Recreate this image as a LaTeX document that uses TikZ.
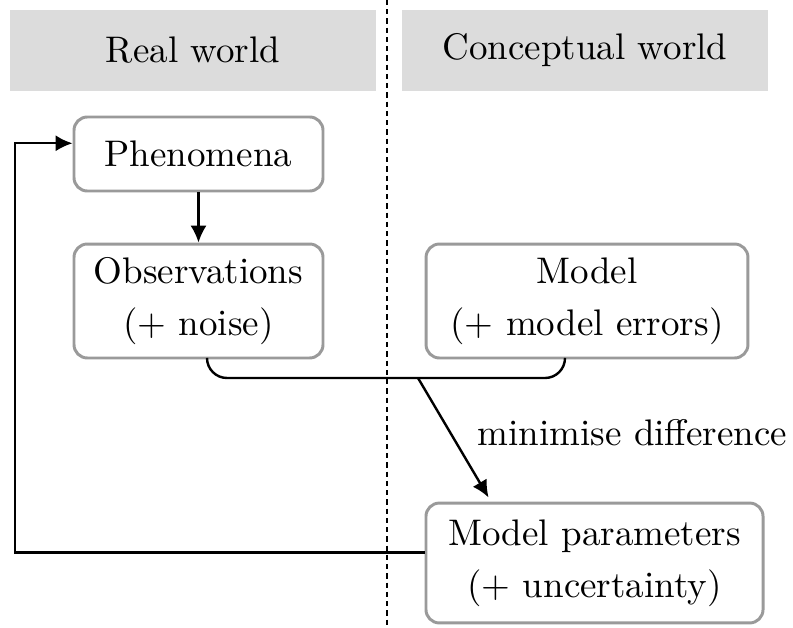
\documentclass[tikz,border=0pt]{standalone}
\usetikzlibrary{arrows.meta}
\definecolor{hdrgray}{RGB}{220,220,220}
\definecolor{boxgray}{RGB}{154,154,154}
\begin{document}
\begin{tikzpicture}[x=0.2703pt,y=-0.2703pt,
  txt/.style={font=\fontsize{10}{14}\selectfont, align=center},
  header/.style={txt, fill=hdrgray, minimum width=98.9pt, minimum height=21.9pt, inner sep=0pt},
  box/.style={txt, draw=boxgray, line width=0.8pt, fill=white, rounded corners=3.6pt, inner sep=0pt},
  conn/.style={line width=0.65pt, black},
  arr/.style={conn, -{Latex[length=4.6pt,width=4.4pt]}},
  divider/.style={line width=0.65pt, dash pattern=on 1.4pt off 1.1pt}
]
\useasboundingbox (0,0) rectangle (793,627);

% headers
\node[header] (rw) at (193,50.5) {Real world};
\node[header] (cw) at (585,50.5) {Conceptual world};

% divider
\coordinate (dtop) at (387,0);
\coordinate (dbot) at (387,627);
\draw[divider] (dtop) -- (dbot);

% boxes
\node[box, minimum width=67.3pt, minimum height=20pt] (phen) at (198.5,154) {Phenomena};
\node[box, minimum width=67.3pt, minimum height=30.8pt] (obs) at (198.5,301) {Observations\\(+ noise)};
\node[box, minimum width=87pt, minimum height=30.8pt] (model) at (587,301) {Model\\(+ model errors)};
\node[box, minimum width=91.1pt, minimum height=32.4pt] (mp) at (594.5,563) {Model parameters\\(+ uncertainty)};

% phenomena -> observations
\draw[arr] (phen) -- (obs);

% bracket joining observations and model
\coordinate (bl) at (207,378);
\coordinate (br) at (565,378);
\draw[conn, rounded corners=5.4pt] (obs.south -| bl) -- (bl) -- (br) -- (model.south -| br);

% minimise difference arrow
\coordinate (dm) at (418,378);
\coordinate (dx) at (491,0);
\draw[arr, shorten >=1.3pt] (dm) -- (mp.north -| dx);
\node[txt, anchor=base west, inner sep=0pt] (lbl) at (477,445) {minimise difference};

% feedback
\coordinate (fbx) at (15,0);
\draw[arr] ([yshift=2.8pt]mp.west) -- ([yshift=2.8pt]mp.west -| fbx) |- ([yshift=2.9pt]phen.west);
\end{tikzpicture}
\end{document}
